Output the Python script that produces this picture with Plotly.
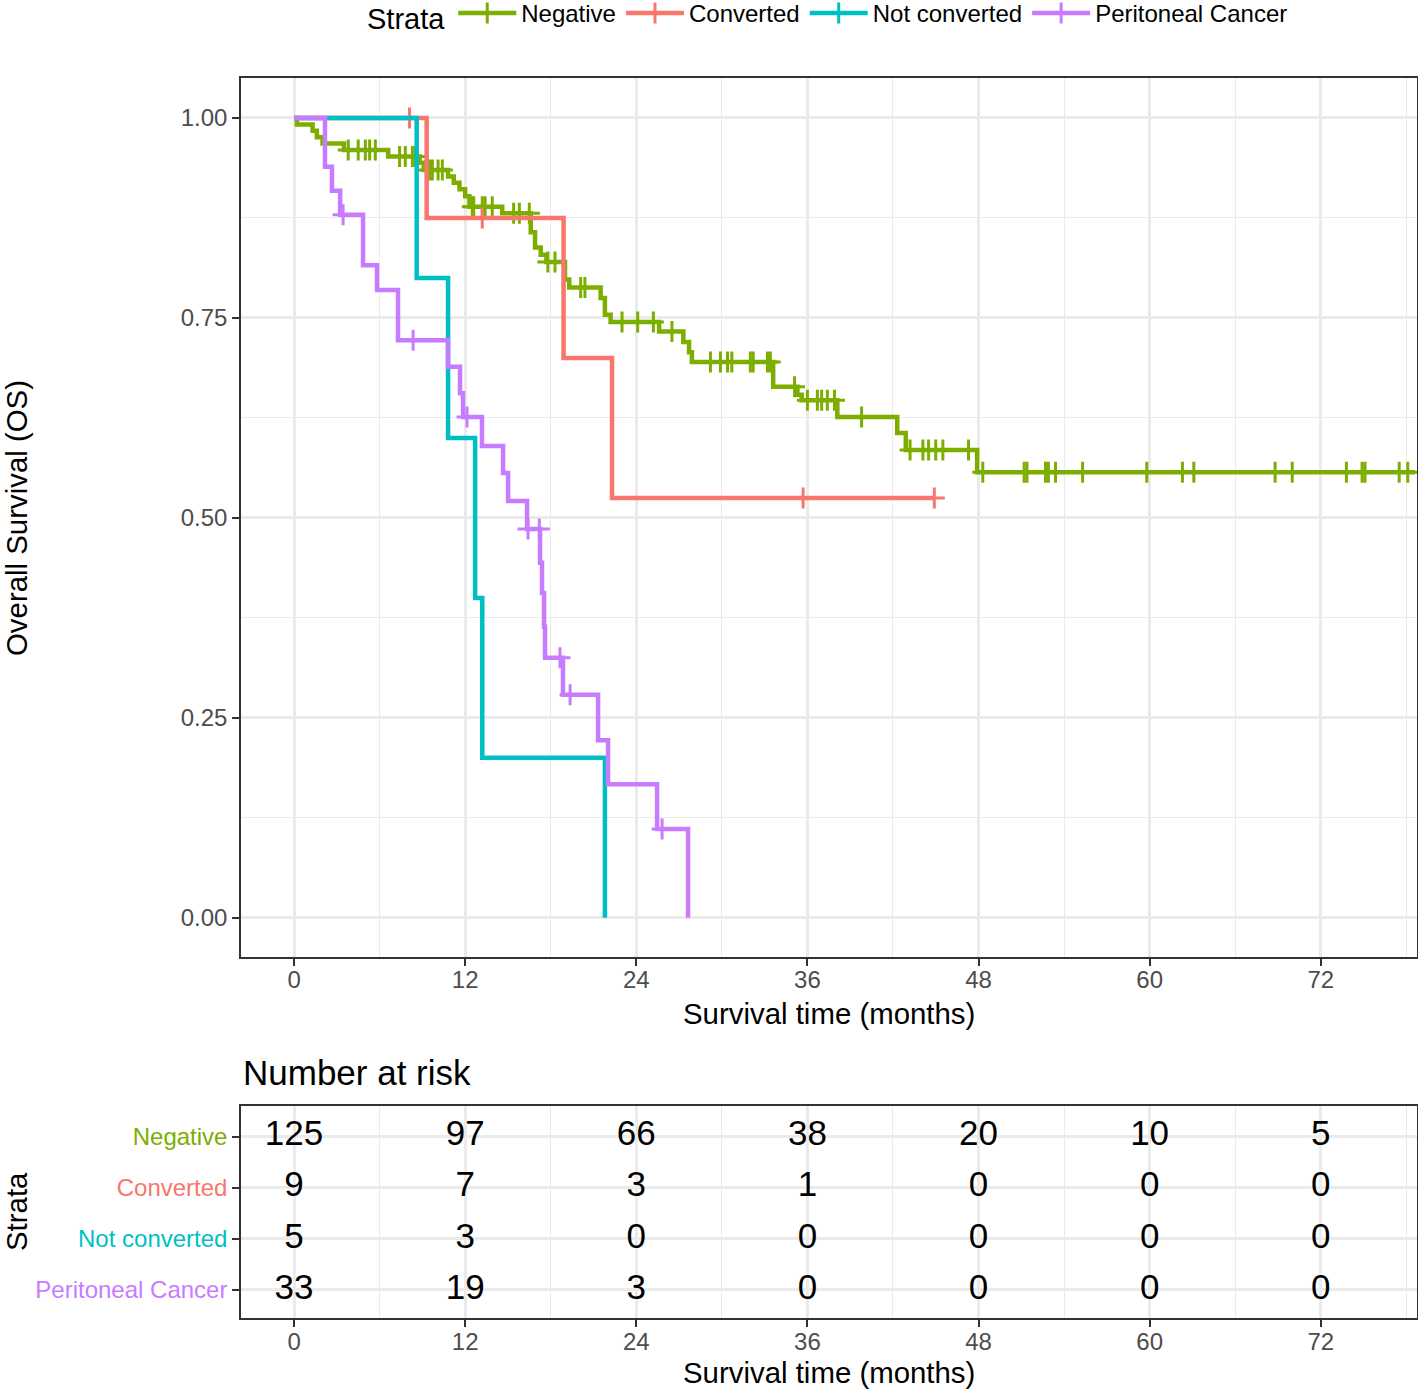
import plotly.graph_objects as go

W, H = 1418, 1390
FONT = "Liberation Sans, Arial, Helvetica, sans-serif"

# ---------------- data ----------------
strata = ["Negative", "Converted", "Not converted", "Peritoneal Cancer"]
colors = ["#7CAE00", "#F8766D", "#00BFC4", "#C77CFF"]

neg_t = [0, 0.2, 1.3, 1.6, 2.0, 3.5, 6.6, 8.8, 9.1, 10.8, 11.2, 11.6, 12.0, 12.3, 14.6,
         16.6, 16.9, 17.3, 17.7, 19.0, 19.3, 21.5, 21.8, 22.2, 25.6, 27.3, 27.7, 27.9,
         33.6, 35.3, 35.6, 38.1, 42.3, 42.9, 47.9, 78.6]
neg_s = [1.0, 0.992, 0.984, 0.976, 0.968, 0.960, 0.952, 0.944, 0.935, 0.927, 0.919, 0.911,
         0.902, 0.889, 0.881, 0.857, 0.838, 0.829, 0.820, 0.798, 0.788, 0.775, 0.754, 0.745,
         0.733, 0.720, 0.707, 0.695, 0.664, 0.654, 0.647, 0.626, 0.606, 0.585, 0.557, 0.557]
neg_cens = [3.8, 4.5, 5.0, 5.3, 5.7, 7.4, 7.8, 8.3, 8.5, 9.5, 9.7, 10.1, 10.4, 12.5, 12.6,
            13.2, 13.4, 13.9, 15.4, 15.8, 16.5, 17.8, 18.3, 20.1, 20.4, 23.0, 24.1, 25.2,
            26.5, 29.2, 29.9, 30.4, 30.7, 32.0, 32.2, 33.2, 33.4, 35.1, 36.0, 36.7, 37.0,
            37.4, 37.9, 39.8, 43.2, 44.1, 44.5, 45.0, 45.5, 47.3, 48.3, 51.2, 51.4, 52.7,
            52.9, 53.4, 55.3, 59.8, 62.3, 63.1, 68.8, 70.0, 73.8, 74.9, 75.1, 77.5, 78.1]

conv_t = [0, 9.3, 18.9, 22.3, 44.9]
conv_s = [1.0, 0.875, 0.700, 0.525, 0.525]
conv_cens = [8.1, 13.2, 35.7, 44.9]

nc_t = [0, 8.6, 10.8, 12.7, 13.2, 21.8]
nc_s = [1.0, 0.8, 0.6, 0.4, 0.2, 0.0]
nc_cens = []

pc_t = [0, 2.17, 2.66, 3.23, 4.84, 5.82, 7.29, 10.80, 11.64, 11.85, 13.18, 14.66, 15.01,
        16.34, 17.25, 17.39, 17.53, 17.60, 18.86, 21.32, 22.02, 25.46, 27.63]
pc_s = [1.0, 0.939, 0.909, 0.879, 0.816, 0.785, 0.722, 0.689, 0.656, 0.626, 0.590, 0.556,
        0.521, 0.486, 0.444, 0.406, 0.364, 0.325, 0.279, 0.222, 0.167, 0.111, 0.0]
pc_cens = [3.44, 8.35, 12.13, 16.41, 17.2, 18.65, 19.36, 25.81]

risk_times = [0, 12, 24, 36, 48, 60, 72]
risk_neg = [125, 97, 66, 38, 20, 10, 5]
risk_conv = [9, 7, 3, 1, 0, 0, 0]
risk_nc = [5, 3, 0, 0, 0, 0, 0]
risk_pc = [33, 19, 3, 0, 0, 0, 0]

x_ticks = [0, 12, 24, 36, 48, 60, 72]
x_minor = [6, 18, 30, 42, 54, 66, 78]
y_ticks = [0.0, 0.25, 0.5, 0.75, 1.0]
y_minor = [0.125, 0.375, 0.625, 0.875]

curves = [(neg_t, neg_s, neg_cens), (conv_t, conv_s, conv_cens),
          (nc_t, nc_s, nc_cens), (pc_t, pc_s, pc_cens)]
risks = [risk_neg, risk_conv, risk_nc, risk_pc]


def step_at(ts, ss, t):
    val = ss[0]
    for ti, si in zip(ts, ss):
        if ti <= t:
            val = si
    return val


# ---------------- layout geometry (pixels -> paper) ----------------
def px_x(p):
    return p / W


def px_y(p):
    return 1 - p / H


x_dom = [px_x(241), px_x(1417)]
main_y_dom = [px_y(957), px_y(78)]
risk_y_dom = [px_y(1318), px_y(1106)]

fig = go.Figure()

cens_marker = lambda col: dict(symbol="cross-thin", size=15, color=col,
                               line=dict(width=3, color=col))

for name, col, (ts, ss, cens) in zip(strata, colors, curves):
    fig.add_trace(go.Scatter(x=ts, y=ss, mode="lines", line=dict(color=col, width=4.5, shape="hv"),
                             showlegend=False, xaxis="x", yaxis="y", hoverinfo="skip"))
    if cens:
        fig.add_trace(go.Scatter(x=cens, y=[step_at(ts, ss, c) for c in cens], mode="markers",
                                 marker=cens_marker(col),
                                 showlegend=False, xaxis="x", yaxis="y", hoverinfo="skip"))
    # legend entry
    fig.add_trace(go.Scatter(x=[None], y=[None], mode="lines+markers", name=name,
                             line=dict(color=col, width=4.5),
                             marker=cens_marker(col),
                             xaxis="x", yaxis="y"))

# risk table numbers
row_y = [4, 3, 2, 1]
for ry, vals in zip(row_y, risks):
    fig.add_trace(go.Scatter(x=risk_times, y=[ry] * len(risk_times), mode="text",
                             text=[str(v) for v in vals],
                             textfont=dict(size=35, color="black", family=FONT),
                             showlegend=False, xaxis="x2", yaxis="y2", hoverinfo="skip"))

grid_major = "#EBEBEB"
axis_common = dict(showline=True, linecolor="#333333", linewidth=1.5, mirror=True,
                   ticks="outside", ticklen=7, tickwidth=2, tickcolor="#333333",
                   tickfont=dict(size=24, color="#4D4D4D", family=FONT),
                   showgrid=True, gridcolor=grid_major, gridwidth=2.5,
                   zeroline=False, automargin=False)
minor_x = dict(tickvals=x_minor, showgrid=True, gridcolor=grid_major, gridwidth=1.3, ticks="")

xrange = [-3.72, 78.75]

fig.update_layout(
    width=W, height=H, template="none",
    paper_bgcolor="white", plot_bgcolor="white",
    margin=dict(l=0, r=0, t=0, b=0, autoexpand=False),
    font=dict(family=FONT, color="black"),
    xaxis=dict(domain=x_dom, range=xrange, anchor="y", tickvals=x_ticks,
               ticktext=[str(v) for v in x_ticks], minor=minor_x,
               ticklabelstandoff=-7, **axis_common),
    yaxis=dict(domain=main_y_dom, range=[-0.049, 1.05], anchor="x", tickvals=y_ticks,
               ticktext=["%.2f" % v for v in y_ticks],
               minor=dict(tickvals=y_minor, showgrid=True, gridcolor=grid_major,
                          gridwidth=1.3, ticks=""),
               **axis_common),
    xaxis2=dict(domain=x_dom, range=xrange, anchor="y2", tickvals=x_ticks,
                ticktext=[str(v) for v in x_ticks], minor=minor_x,
                ticklabelstandoff=-6, **axis_common),
    yaxis2=dict(domain=risk_y_dom, range=[0.45, 4.6], anchor="x2", tickvals=row_y,
                ticktext=["<span style='color:%s'>%s</span>" % (c, n) for c, n in zip(colors, strata)],
                **axis_common),
    legend=dict(orientation="h", x=px_x(829), xanchor="center", y=px_y(15), yanchor="middle",
                font=dict(size=24, color="black", family=FONT),
                title=dict(text="Strata", font=dict(size=29, color="black", family=FONT)),
                bgcolor="rgba(0,0,0,0)", itemwidth=58),
)

ann = [
    dict(text="Overall Survival (OS)", x=px_x(16), y=px_y(518), textangle=-90),
    dict(text="Survival time (months)", x=px_x(829), y=px_y(1013)),
    dict(text="Survival time (months)", x=px_x(829), y=px_y(1372)),
    dict(text="Strata", x=px_x(16), y=px_y(1212), textangle=-90),
]
for a in ann:
    fig.add_annotation(xref="paper", yref="paper", xanchor="center", yanchor="middle",
                       showarrow=False, font=dict(size=29.4, color="black", family=FONT), **a)
fig.add_annotation(text="Number at risk", x=px_x(241), y=px_y(1072), xref="paper", yref="paper",
                   xanchor="left", yanchor="middle", showarrow=False,
                   font=dict(size=35, color="black", family=FONT))

fig.write_html("out.html", config={"displayModeBar": False},
               post_script="document.body.style.margin='0';")
